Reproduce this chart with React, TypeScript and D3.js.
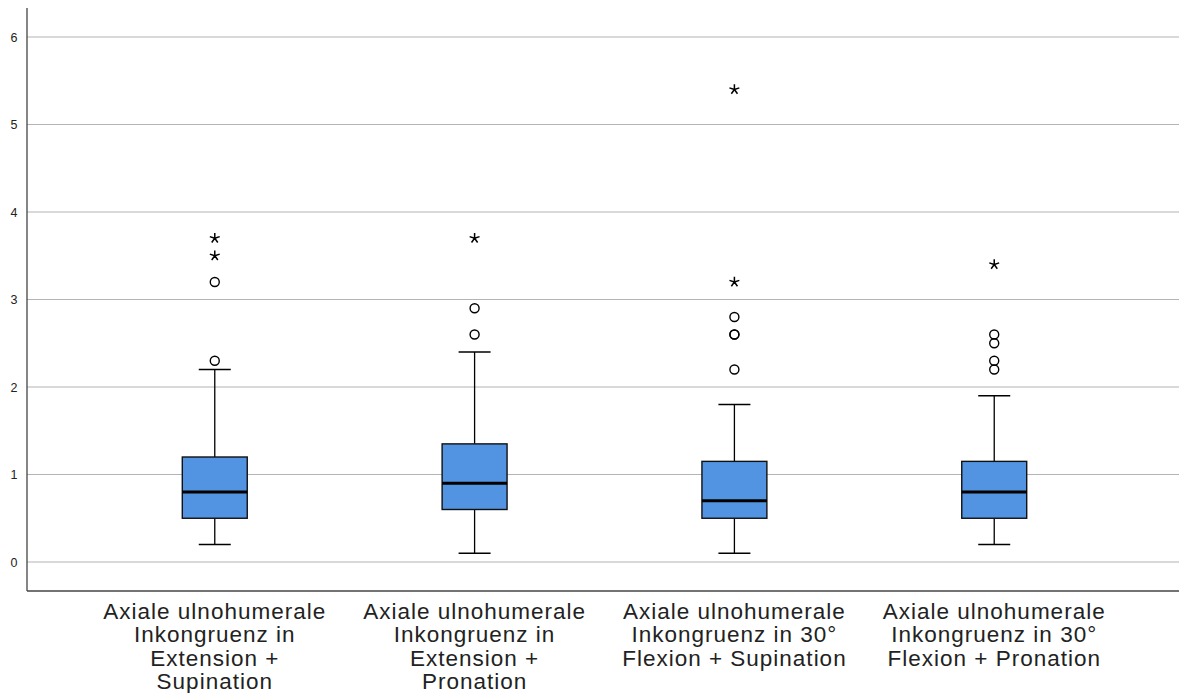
import React from "react";
import * as d3 from "d3";

// categories (x axis labels, already split in lines as in the picture)
const categories = ["ES", "EP", "FS", "FP"];
const categoryLabels = [
  ["Axiale ulnohumerale", "Inkongruenz in", "Extension +", "Supination"],
  ["Axiale ulnohumerale", "Inkongruenz in", "Extension +", "Pronation"],
  ["Axiale ulnohumerale", "Inkongruenz in 30°", "Flexion + Supination"],
  ["Axiale ulnohumerale", "Inkongruenz in 30°", "Flexion + Pronation"],
];

// box statistics per category
const whiskerLow = [0.2, 0.1, 0.1, 0.2];
const q1 = [0.5, 0.6, 0.5, 0.5];
const median = [0.8, 0.9, 0.7, 0.8];
const q3 = [1.2, 1.35, 1.15, 1.15];
const whiskerHigh = [2.2, 2.4, 1.8, 1.9];

// outliers (circles) and extremes (stars)
const outliers = [
  [2.3, 3.2],
  [2.6, 2.9],
  [2.2, 2.6, 2.6, 2.8],
  [2.2, 2.3, 2.5, 2.6],
];
const extremes = [[3.5, 3.7], [3.7], [3.2, 5.4], [3.4]];

const yTicks = [0, 1, 2, 3, 4, 5, 6];

const W = 1179;
const H = 693;
const margin = { left: 27, top: 8, bottom: 591 };

const boxFill = "#5294e2";
const font = "'Liberation Sans', Arial, sans-serif";

function starPath(r: number) {
  const p = d3.path();
  for (let k = 0; k < 5; k++) {
    const a = -Math.PI / 2 + (k * 2 * Math.PI) / 5;
    p.moveTo(0, 0);
    p.lineTo(r * Math.cos(a), r * Math.sin(a));
  }
  return p.toString();
}

export default function App() {
  const x = d3
    .scaleBand()
    .domain(categories)
    .range([29, 1180])
    .paddingInner(0.75)
    .paddingOuter(0.59);

  const y = d3.scaleLinear().domain([0, 6]).range([562, 37]);

  const bw = x.bandwidth();
  const capW = 32;
  const star = starPath(5.2);

  return (
    <div style={{ position: "absolute", left: 0, top: 0 }}>
      <svg width={W} height={H} style={{ display: "block", background: "#fff" }}>
        {/* gridlines */}
        {yTicks.map((t) => (
          <line
            key={"g" + t}
            x1={margin.left}
            x2={W}
            y1={y(t)}
            y2={y(t)}
            stroke="#b4b4b4"
            strokeWidth={1.2}
          />
        ))}
        {/* tick labels */}
        {yTicks.map((t) => (
          <text
            key={"t" + t}
            x={17.5}
            y={y(t)}
            dy="0.36em"
            textAnchor="end"
            fontFamily={font}
            fontSize={12.5}
            fill="#222"
          >
            {t}
          </text>
        ))}
        {/* axes */}
        <line x1={margin.left} x2={margin.left} y1={margin.top} y2={margin.bottom} stroke="#444" strokeWidth={1.3} />
        <line x1={margin.left} x2={W} y1={margin.bottom} y2={margin.bottom} stroke="#444" strokeWidth={1.3} />

        {categories.map((c, i) => {
          const x0 = x(c) as number;
          const cx = x0 + bw / 2;
          return (
            <g key={c}>
              {/* whiskers */}
              <line x1={cx} x2={cx} y1={y(q3[i])} y2={y(whiskerHigh[i])} stroke="#000" strokeWidth={1.3} />
              <line x1={cx} x2={cx} y1={y(q1[i])} y2={y(whiskerLow[i])} stroke="#000" strokeWidth={1.3} />
              <line x1={cx - capW / 2} x2={cx + capW / 2} y1={y(whiskerHigh[i])} y2={y(whiskerHigh[i])} stroke="#000" strokeWidth={1.3} />
              <line x1={cx - capW / 2} x2={cx + capW / 2} y1={y(whiskerLow[i])} y2={y(whiskerLow[i])} stroke="#000" strokeWidth={1.3} />
              {/* box */}
              <rect
                x={x0}
                y={y(q3[i])}
                width={bw}
                height={y(q1[i]) - y(q3[i])}
                fill={boxFill}
                stroke="#111"
                strokeWidth={1.4}
              />
              <line x1={x0} x2={x0 + bw} y1={y(median[i])} y2={y(median[i])} stroke="#000" strokeWidth={3} />
              {/* outliers */}
              {outliers[i].map((v, j) => (
                <circle key={"o" + j} cx={cx} cy={y(v)} r={4.5} fill="none" stroke="#000" strokeWidth={1.4} />
              ))}
              {extremes[i].map((v, j) => (
                <path key={"e" + j} d={star} transform={`translate(${cx},${y(v)})`} stroke="#000" strokeWidth={1.5} fill="none" />
              ))}
              {/* category label */}
              <text
                x={cx}
                textAnchor="middle"
                fontFamily={font}
                fontSize={22.5}
                letterSpacing={1}
                fill="#222"
              >
                {categoryLabels[i].map((line, k) => (
                  <tspan key={k} x={cx} y={619 + k * 23.4}>
                    {line}
                  </tspan>
                ))}
              </text>
            </g>
          );
        })}
      </svg>
    </div>
  );
}
